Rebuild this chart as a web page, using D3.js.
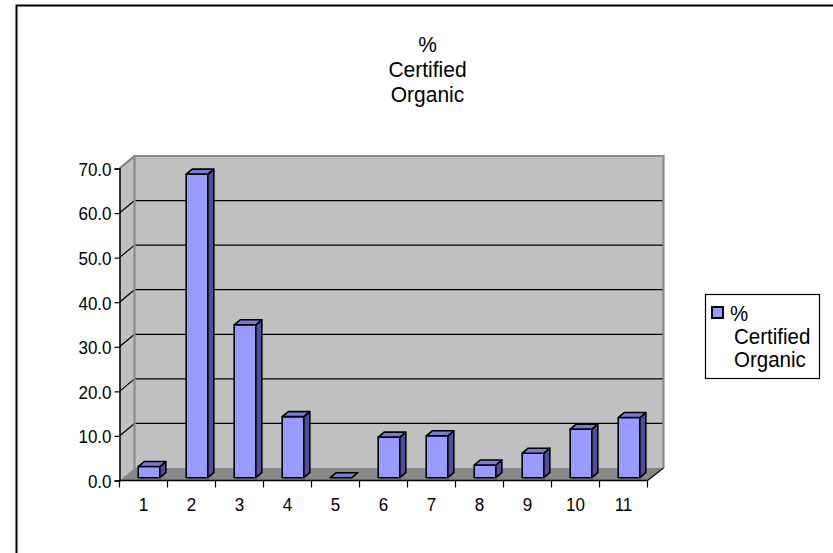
<!DOCTYPE html>
<html>
<head>
<meta charset="utf-8">
<script src="https://cdn.jsdelivr.net/npm/d3@7"></script>
<style>
  html, body { margin: 0; padding: 0; background: #fff; }
  svg { display: block; font-family: "Liberation Sans", Arial, sans-serif; }
</style>
</head>
<body>
<svg id="chart" width="833" height="553"></svg>
<script>
// Share of certified organic production by group
const categories = ["1", "2", "3", "4", "5", "6", "7", "8", "9", "10", "11"];
const organicShare = [2.5, 68.1, 34.3, 13.7, 0.0, 9.1, 9.4, 2.85, 5.5, 10.9, 13.5];
const yTicks = [0, 10, 20, 30, 40, 50, 60, 70];
const titleLines = ["%", "Certified", "Organic"];
const seriesName = ["%", "Certified", "Organic"];

const svg = d3.select("#chart");
const STRETCH = 1.13; // glyphs are drawn slightly taller than wide

// outer chart frame
svg.append("rect")
  .attr("x", 16.5).attr("y", 5.5)
  .attr("width", 900).attr("height", 700)
  .attr("fill", "#fff").attr("stroke", "#000").attr("stroke-width", 2);

// scales for the front plane of the 3-D box
const x = d3.scaleBand().domain(categories).range([119.5, 647.5]).paddingInner(0).paddingOuter(0);
const y = d3.scaleLinear().domain([0, 70]).range([480.5, 168.5]);

// depth of the box (oblique projection)
const DX = 15, DY = -12.5;
const x0 = x.range()[0], x1 = x.range()[1];

// left side wall
svg.append("polygon")
  .attr("points", [[x0, y(70)], [x0 + DX, y(70) + DY], [x0 + DX, y(0) + DY], [x0, y(0)]].map(p => p.join(",")).join(" "))
  .attr("fill", "#c0c0c0");

// back wall
svg.append("rect")
  .attr("x", x0 + DX).attr("y", y(70) + DY)
  .attr("width", x1 - x0 + 1).attr("height", y(0) - y(70))
  .attr("fill", "#c0c0c0");

// floor
svg.append("polygon")
  .attr("points", [[x0, y(0)], [x1, y(0)], [x1 + DX, y(0) + DY], [x0 + DX, y(0) + DY]].map(p => p.join(",")).join(" "))
  .attr("fill", "#888888");

// gridlines on the back wall and the side wall
const grid = svg.append("g");
yTicks.filter(v => v > 0 && v < 70).forEach(v => {
  grid.append("line")
    .attr("x1", x0 + DX).attr("x2", x1 + DX + 1)
    .attr("y1", y(v) + DY).attr("y2", y(v) + DY)
    .attr("stroke", "#000").attr("stroke-width", 1.2);
});
yTicks.filter(v => v > 0).forEach(v => {
  grid.append("line")
    .attr("x1", x0).attr("y1", y(v))
    .attr("x2", x0 + DX).attr("y2", y(v) + DY)
    .attr("stroke", v === 70 ? "#808080" : "#000").attr("stroke-width", v === 70 ? 2 : 1.2);
});

// wall edges
svg.append("path")
  .attr("d", `M${x0 + DX},${y(0) + DY} V${y(70) + DY} H${x1 + DX + 1} V${y(0) + DY}`)
  .attr("fill", "none").attr("stroke", "#8a8a8a").attr("stroke-width", 2.2);

// floor right edge
svg.append("line")
  .attr("x1", x1).attr("y1", y(0))
  .attr("x2", x1 + DX + 1).attr("y2", y(0) + DY)
  .attr("stroke", "#000").attr("stroke-width", 1.2);

// bars
const barOffX = x.bandwidth() * 0.39;
const barW = x.bandwidth() * 0.45;
const baseY = y(0) - 2.8;
const bdx = 6, bdy = -5;
const bars = svg.append("g")
  .attr("stroke", "#000").attr("stroke-width", 1.6).attr("stroke-linejoin", "round");
categories.forEach((c, i) => {
  const v = organicShare[i];
  const xl = x(c) + barOffX, xr = xl + barW;
  const yt = baseY - (y(0) - y(v));
  const g = bars.append("g");
  if (v > 0) {
    g.append("rect").attr("x", xl).attr("y", yt).attr("width", barW).attr("height", baseY - yt)
      .attr("fill", "#9999ff");
    g.append("polygon")
      .attr("points", [[xr, yt], [xr + bdx, yt + bdy], [xr + bdx, baseY + bdy], [xr, baseY]].map(p => p.join(",")).join(" "))
      .attr("fill", "#4d4d99");
  }
  g.append("polygon")
    .attr("points", [[xl, yt], [xr, yt], [xr + bdx, yt + bdy], [xl + bdx, yt + bdy]].map(p => p.join(",")).join(" "))
    .attr("fill", "#7b7bd6");
});

// y axis
const yAxis = svg.append("g").attr("transform", `translate(${x0},0)`)
  .call(d3.axisLeft(y).tickValues(yTicks).tickFormat(d3.format(".1f")).tickSize(5).tickPadding(3));
yAxis.attr("font-family", "'Liberation Sans', Arial, sans-serif").attr("font-size", 17);
yAxis.select(".domain").attr("stroke", "#000").attr("stroke-width", 1.5);
yAxis.selectAll(".tick line").attr("stroke", "#000").attr("stroke-width", 1.2);
yAxis.selectAll(".tick text").attr("font-size", 17).attr("fill", "#000").attr("dy", "0.36em")
  .attr("transform", `scale(1,${STRETCH})`);

// x axis with tick marks at category boundaries
const xAxisG = svg.append("g").attr("transform", `translate(0,${y(0)})`);
xAxisG.append("line").attr("x1", x0).attr("x2", x1).attr("stroke", "#000").attr("stroke-width", 1.5);
d3.range(categories.length + 1).forEach(i => {
  const xt = x0 + i * x.step();
  xAxisG.append("line").attr("x1", xt).attr("x2", xt).attr("y1", 0).attr("y2", 7)
    .attr("stroke", "#000").attr("stroke-width", 1.2);
});
categories.forEach(c => {
  xAxisG.append("text")
    .attr("transform", `translate(${x(c) + x.bandwidth() / 2},30) scale(1,${STRETCH})`)
    .attr("text-anchor", "middle").attr("font-size", 17).attr("fill", "#000")
    .text(c);
});

// title
titleLines.forEach((t, i) => {
  svg.append("text")
    .attr("transform", `translate(427.5,${52 + i * 25}) scale(1,1.08)`)
    .attr("text-anchor", "middle").attr("font-size", 21).attr("fill", "#000")
    .text(t);
});

// legend
const legend = svg.append("g");
legend.append("rect").attr("x", 705.5).attr("y", 294.5).attr("width", 114).attr("height", 84)
  .attr("fill", "#fff").attr("stroke", "#000").attr("stroke-width", 1.2);
legend.append("rect").attr("x", 712).attr("y", 307).attr("width", 11).attr("height", 11)
  .attr("fill", "#9999ff").attr("stroke", "#000").attr("stroke-width", 2);
seriesName.forEach((t, i) => {
  legend.append("text")
    .attr("transform", `translate(${i === 0 ? 730 : 734},${321 + i * 23}) scale(1,1.08)`)
    .attr("font-size", 20.5).attr("fill", "#000")
    .text(t);
});
</script>
</body>
</html>
